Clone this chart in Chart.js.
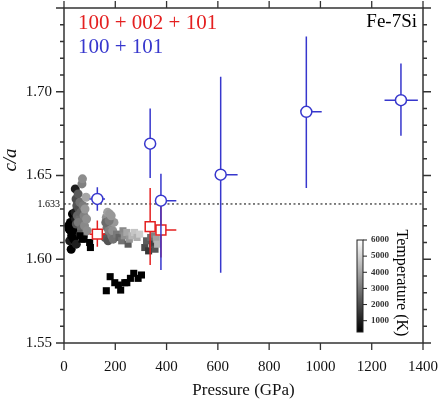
<!DOCTYPE html>
<html>
<head>
<meta charset="utf-8">
<script src="https://cdn.jsdelivr.net/npm/chart.js@4.4.1/dist/chart.umd.min.js"></script>
<style>
  html, body { margin: 0; padding: 0; background: #fff; }
</style>
</head>
<body>
<canvas id="myChart" width="440" height="401"></canvas>
<script>
// axis ticks
const xTicks = [0, 200, 400, 600, 800, 1000, 1200, 1400];
const yTicks = [1.55, 1.60, 1.65, 1.70];
const idealCA = 1.633;
const tempTicks = [1000, 2000, 3000, 4000, 5000, 6000];

// temperature-coloured points (circles)
const circP = [18, 20, 22, 25, 26, 28, 30, 33, 35, 38, 40, 43, 44, 45, 48, 52,
  47, 50, 55, 58, 52, 60, 48, 62, 56, 65, 68, 64, 70, 72, 74, 78, 80, 76, 82, 86, 88, 90,
  160, 165, 168, 170, 172, 175, 178, 182, 186, 190, 195, 163, 176, 184, 192];
const circCA = [1.620, 1.618, 1.611, 1.622, 1.617, 1.606, 1.614, 1.627, 1.619, 1.612, 1.617, 1.628, 1.642, 1.624, 1.609, 1.615,
  1.636, 1.632, 1.639, 1.630, 1.626, 1.624, 1.621, 1.634, 1.622, 1.628, 1.618, 1.615, 1.645, 1.648, 1.632, 1.626, 1.620, 1.614, 1.630, 1.637, 1.624, 1.617,
  1.613, 1.625, 1.619, 1.628, 1.611, 1.617, 1.627, 1.621, 1.614, 1.617, 1.622, 1.622, 1.623, 1.626, 1.612];
const circT = [300, 400, 500, 300, 300, 300, 300, 300, 400, 400, 300, 600, 500, 500, 600, 300,
  1800, 2000, 2200, 1800, 2400, 2600, 2000, 2800, 3000, 2400, 2600, 2200, 3200, 3500, 3000, 3200, 3400, 2800, 3800, 4200, 3600, 3500,
  2200, 3600, 2800, 4000, 2000, 3200, 3800, 3400, 3000, 3600, 3800, 2600, 3000, 3800, 2800];

// temperature-coloured points (squares)
const sqP = [62, 70, 78, 100, 103,
  165, 180, 198, 212, 221, 237, 245, 259, 272, 289, 302,
  205, 215, 225, 230, 235, 245, 250, 255, 265, 275, 285, 295,
  315, 322, 330, 338, 345, 352, 355, 360, 365, 370, 348];
const sqCA = [1.614, 1.612, 1.612, 1.610, 1.607,
  1.5812, 1.5896, 1.586, 1.5846, 1.5816, 1.586, 1.586, 1.5886, 1.5916, 1.5886, 1.5906,
  1.615, 1.613, 1.611, 1.617, 1.614, 1.616, 1.609, 1.612, 1.614, 1.616, 1.613, 1.615,
  1.607, 1.611, 1.605, 1.613, 1.609, 1.615, 1.606, 1.612, 1.609, 1.616, 1.618];
const sqT = [300, 300, 300, 300, 300,
  300, 300, 300, 300, 300, 300, 300, 300, 300, 300, 300,
  3000, 2400, 2800, 3400, 3600, 4200, 2200, 3800, 4600, 5000, 4400, 5200,
  1800, 2200, 1200, 2600, 1500, 3200, 2000, 4000, 4600, 5200, 4800];

// 100 + 101 (blue)
const blueP = [130, 336, 378, 611, 945, 1314];
const blueCA = [1.636, 1.669, 1.635, 1.6505, 1.688, 1.695];
const blueYLo = [1.629, 1.6485, 1.5936, 1.592, 1.6425, 1.6738];
const blueYHi = [1.643, 1.690, 1.651, 1.709, 1.733, 1.7168];
const blueXLo = [100, 336, 378, 611, 945, 1250];
const blueXHi = [160, 336, 438, 677, 1005, 1380];

// 100 + 002 + 101 (red)
const redP = [130, 336, 378];
const redCA = [1.615, 1.6195, 1.6175];
const redYLo = [1.6075, 1.5966, 1.601];
const redYHi = [1.6231, 1.6425, 1.6345];
const redXLo = [100, 336, 378];
const redXHi = [160, 336, 438];

const BLUE = 'rgb(55,55,205)';
const RED = 'rgb(228,32,32)';
const AXIS = '#333';
const SERIF = "'Liberation Serif', 'DejaVu Serif', serif";

const tMin = 300, tMax = 6000;
function grey(t) {
  let v = Math.round(20 + 215 * (t - tMin) / (tMax - tMin));
  if (t <= 400) v = 0;
  return 'rgb(' + v + ',' + v + ',' + v + ')';
}

function pts(xs, ys) {
  return xs.map((x, i) => ({ x: x, y: ys[i] }));
}

const plotDecor = {
  id: 'plotDecor',
  beforeDatasetsDraw(chart) {
    const ctx = chart.ctx, a = chart.chartArea, ys = chart.scales.y;
    const py = ys.getPixelForValue(idealCA);
    ctx.save();
    ctx.strokeStyle = '#000';
    ctx.lineWidth = 1;
    ctx.setLineDash([2, 2.5]);
    ctx.beginPath();
    ctx.moveTo(a.left, py);
    ctx.lineTo(a.right, py);
    ctx.stroke();
    ctx.restore();
  },
  beforeDatasetDraw(chart, args) {
    const ds = chart.data.datasets[args.index];
    if (!ds.errY) return;
    const ctx = chart.ctx, xs = chart.scales.x, ys = chart.scales.y;
    ctx.save();
    ctx.strokeStyle = ds.borderColor;
    ctx.lineWidth = 1.5;
    ds.data.forEach((d, i) => {
      const px = xs.getPixelForValue(d.x), py = ys.getPixelForValue(d.y);
      ctx.beginPath();
      ctx.moveTo(px, ys.getPixelForValue(ds.errY[i][0]));
      ctx.lineTo(px, ys.getPixelForValue(ds.errY[i][1]));
      ctx.moveTo(xs.getPixelForValue(ds.errX[i][0]), py);
      ctx.lineTo(xs.getPixelForValue(ds.errX[i][1]), py);
      ctx.stroke();
    });
    ctx.restore();
  },
  afterDraw(chart) {
    const ctx = chart.ctx, a = chart.chartArea, xs = chart.scales.x, ys = chart.scales.y;
    ctx.save();
    ctx.strokeStyle = AXIS;
    ctx.lineWidth = 1.5;
    ctx.strokeRect(a.left, a.top, a.right - a.left, a.bottom - a.top);

    // x ticks, bottom and top
    ctx.lineWidth = 1.3;
    ctx.beginPath();
    xTicks.forEach(v => {
      const px = xs.getPixelForValue(v);
      ctx.moveTo(px, a.bottom); ctx.lineTo(px, a.bottom + 7);
      ctx.moveTo(px, a.top); ctx.lineTo(px, a.top - 7);
    });
    // y ticks, left and right (major + minor)
    for (let k = 0; k <= 20; k++) {
      const v = 1.55 + k * 0.01;
      const py = ys.getPixelForValue(v);
      const len = (k % 5 === 0) ? 8 : 4;
      ctx.moveTo(a.left, py); ctx.lineTo(a.left - len, py);
      ctx.moveTo(a.right, py); ctx.lineTo(a.right + len, py);
    }
    ctx.stroke();

    // tick labels
    ctx.fillStyle = '#111';
    ctx.font = '15px ' + SERIF;
    ctx.textAlign = 'center';
    ctx.textBaseline = 'middle';
    xTicks.forEach(v => ctx.fillText(String(v), xs.getPixelForValue(v), a.bottom + 24));
    ctx.textAlign = 'right';
    yTicks.forEach(v => ctx.fillText(v.toFixed(2), a.left - 12, ys.getPixelForValue(v)));

    // axis titles
    ctx.textAlign = 'center';
    ctx.font = '17px ' + SERIF;
    ctx.fillText('Pressure (GPa)', (a.left + a.right) / 2, 391);
    ctx.save();
    ctx.translate(11, 160);
    ctx.rotate(-Math.PI / 2);
    ctx.font = 'italic 19px ' + SERIF;
    ctx.fillText('c/a', 0, 0);
    ctx.restore();

    // small 1.633 label
    ctx.fillStyle = '#000';
    ctx.font = '10px ' + SERIF;
    ctx.textAlign = 'right';
    ctx.fillText(idealCA.toFixed(3), a.left - 4, ys.getPixelForValue(idealCA));

    // series labels
    ctx.textAlign = 'left';
    ctx.font = '21px ' + SERIF;
    ctx.fillStyle = RED;
    ctx.fillText('100 + 002 + 101', 78, 23);
    ctx.fillStyle = BLUE;
    ctx.fillText('100 + 101', 78, 47);
    ctx.fillStyle = '#000';
    ctx.font = '19px ' + SERIF;
    ctx.textAlign = 'right';
    ctx.fillText('Fe-7Si', 417, 22);

    // temperature colour bar
    const cbL = 357, cbR = 363, cbT = 240, cbB = 332;
    const g = ctx.createLinearGradient(0, cbB, 0, cbT);
    g.addColorStop(0, '#000');
    g.addColorStop(1, '#fff');
    ctx.fillStyle = g;
    ctx.fillRect(cbL, cbT, cbR - cbL, cbB - cbT);
    ctx.lineWidth = 1;
    ctx.strokeStyle = '#222';
    ctx.strokeRect(cbL, cbT, cbR - cbL, cbB - cbT);
    ctx.font = 'bold 9px ' + SERIF;
    ctx.fillStyle = '#333';
    ctx.textAlign = 'left';
    ctx.beginPath();
    tempTicks.forEach(t => {
      const py = cbB - (t - tMin) / (tMax - tMin) * (cbB - cbT);
      ctx.moveTo(cbR, py); ctx.lineTo(cbR + 4, py);
      ctx.fillText(String(t), cbR + 8, py);
    });
    ctx.stroke();
    ctx.save();
    ctx.translate(401, 283);
    ctx.rotate(Math.PI / 2);
    ctx.textAlign = 'center';
    ctx.fillStyle = '#000';
    ctx.font = '16px ' + SERIF;
    ctx.fillText('Temperature (K)', 0, 0);
    ctx.restore();
    ctx.restore();
  }
};

const data = {
  datasets: [
    {
      label: '100 + 002 + 101',
      data: pts(redP, redCA),
      errY: redYLo.map((v, i) => [v, redYHi[i]]),
      errX: redXLo.map((v, i) => [v, redXHi[i]]),
      pointStyle: 'rect',
      pointRadius: 7,
      backgroundColor: '#fff',
      borderColor: RED,
      borderWidth: 1.5,
      order: 1
    },
    {
      label: '100 + 101',
      data: pts(blueP, blueCA),
      errY: blueYLo.map((v, i) => [v, blueYHi[i]]),
      errX: blueXLo.map((v, i) => [v, blueXHi[i]]),
      pointStyle: 'circle',
      pointRadius: 5.5,
      backgroundColor: '#fff',
      borderColor: BLUE,
      borderWidth: 1.5,
      order: 0
    },
    {
      label: 'squares',
      data: pts(sqP, sqCA),
      pointStyle: 'rect',
      pointRadius: 5,
      backgroundColor: sqT.map(grey),
      borderWidth: 0,
      order: 2
    },
    {
      label: 'circles',
      data: pts(circP, circCA),
      pointStyle: 'circle',
      pointRadius: 4.5,
      backgroundColor: circT.map(grey),
      borderWidth: 0,
      order: 3
    }
  ]
};

const config = {
  type: 'scatter',
  data: data,
  options: {
    responsive: false,
    animation: false,
    layout: { autoPadding: false, padding: { top: 8, right: 17, left: 0, bottom: 0 } },
    plugins: { legend: { display: false }, tooltip: { enabled: false } },
    scales: {
      x: {
        type: 'linear',
        min: 0, max: 1400,
        afterBuildTicks: s => { s.ticks = xTicks.map(v => ({ value: v })); },
        afterFit: s => { s.height = 58; },
        grid: { display: false, drawTicks: false },
        border: { display: false },
        ticks: { display: false }
      },
      y: {
        type: 'linear',
        min: 1.55, max: 1.75,
        afterBuildTicks: s => { s.ticks = yTicks.map(v => ({ value: v })); },
        afterFit: s => { s.width = 64; },
        grid: { display: false, drawTicks: false },
        border: { display: false },
        ticks: { display: false }
      }
    }
  },
  plugins: [plotDecor]
};

const myChart = new Chart(document.getElementById('myChart'), config);
</script>
</body>
</html>
